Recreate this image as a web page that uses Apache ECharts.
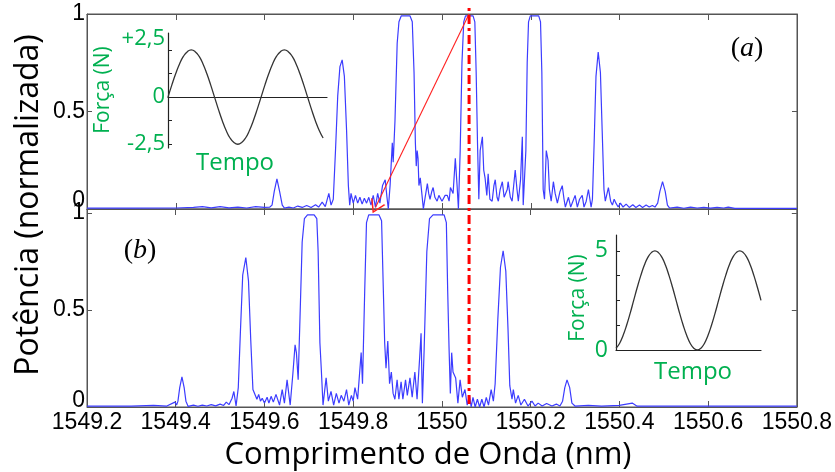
<!DOCTYPE html>
<html><head><meta charset="utf-8">
<script src="https://cdn.jsdelivr.net/npm/echarts@6/dist/echarts.min.js"></script>
<style>html,body{margin:0;padding:0;background:#fff}#c{width:835px;height:472px}</style>
</head><body><div id="c"></div>
<script>
// ---- spectrum (a): wavelength (nm) and normalised power ----
const wavelengthA = [1549.200,1549.300,1549.400,1549.440,1549.460,1549.480,1549.500,1549.520,1549.540,1549.560,1549.580,1549.600,1549.612,1549.617,1549.622,1549.628,1549.634,1549.640,1549.645,1549.655,1549.665,1549.675,1549.685,1549.695,1549.705,1549.715,1549.722,1549.730,1549.737,1549.745,1549.750,1549.755,1549.760,1549.765,1549.770,1549.775,1549.780,1549.785,1549.789,1549.792,1549.795,1549.800,1549.805,1549.810,1549.815,1549.820,1549.825,1549.830,1549.835,1549.840,1549.845,1549.850,1549.855,1549.860,1549.866,1549.872,1549.876,1549.879,1549.883,1549.888,1549.890,1549.894,1549.899,1549.903,1549.908,1549.928,1549.933,1549.937,1549.940,1549.942,1549.944,1549.946,1549.948,1549.951,1549.955,1549.958,1549.962,1549.967,1549.970,1549.973,1549.977,1549.980,1549.984,1549.989,1549.993,1549.996,1550.000,1550.003,1550.007,1550.012,1550.016,1550.019,1550.025,1550.030,1550.034,1550.037,1550.041,1550.045,1550.049,1550.053,1550.070,1550.074,1550.077,1550.080,1550.083,1550.086,1550.091,1550.094,1550.097,1550.101,1550.104,1550.108,1550.113,1550.117,1550.120,1550.124,1550.127,1550.131,1550.136,1550.140,1550.143,1550.147,1550.149,1550.154,1550.158,1550.165,1550.169,1550.172,1550.177,1550.181,1550.183,1550.186,1550.189,1550.192,1550.195,1550.199,1550.218,1550.222,1550.225,1550.228,1550.231,1550.235,1550.239,1550.242,1550.246,1550.251,1550.255,1550.260,1550.266,1550.271,1550.275,1550.278,1550.285,1550.290,1550.295,1550.300,1550.305,1550.310,1550.316,1550.320,1550.325,1550.330,1550.336,1550.339,1550.343,1550.347,1550.352,1550.357,1550.361,1550.365,1550.368,1550.372,1550.375,1550.380,1550.384,1550.388,1550.392,1550.397,1550.402,1550.408,1550.415,1550.422,1550.430,1550.437,1550.445,1550.452,1550.460,1550.467,1550.474,1550.480,1550.486,1550.491,1550.497,1550.503,1550.508,1550.513,1550.530,1550.545,1550.560,1550.575,1550.590,1550.605,1550.620,1550.635,1550.645,1550.660,1550.700,1550.800];
const powerA = [0.004,0.004,0.005,0.008,0.012,0.006,0.012,0.006,0.010,0.005,0.012,0.008,0.010,0.020,0.090,0.155,0.090,0.020,0.005,0.010,0.005,0.015,0.008,0.018,0.008,0.022,0.010,0.035,0.012,0.080,0.020,0.050,0.300,0.580,0.730,0.765,0.680,0.400,0.120,0.020,0.080,0.030,0.070,0.030,0.060,0.025,0.055,0.030,0.060,0.020,0.070,0.010,0.080,0.030,0.120,0.150,0.060,0.000,0.120,0.340,0.240,0.450,0.850,0.960,0.990,0.990,0.960,0.700,0.340,0.220,0.300,0.260,0.120,0.160,0.070,0.000,0.060,0.130,0.080,0.050,0.090,0.110,0.060,0.040,0.070,0.060,0.040,0.050,0.070,0.070,0.040,0.110,0.080,0.260,0.120,0.000,0.300,0.750,0.960,0.990,0.990,0.960,0.700,0.340,0.050,0.300,0.370,0.200,0.160,0.070,0.180,0.050,0.040,0.120,0.150,0.060,0.040,0.100,0.140,0.060,0.050,0.100,0.140,0.060,0.040,0.200,0.100,0.040,0.150,0.370,0.020,0.030,0.300,0.750,0.960,0.990,0.990,0.960,0.700,0.100,0.050,0.300,0.250,0.100,0.040,0.140,0.080,0.030,0.090,0.120,0.050,0.010,0.060,0.010,0.040,0.070,0.010,0.050,0.070,0.010,0.040,0.100,0.010,0.050,0.350,0.680,0.805,0.700,0.400,0.100,0.040,0.080,0.110,0.040,0.020,0.050,0.030,0.010,0.030,0.010,0.025,0.008,0.022,0.008,0.020,0.008,0.020,0.010,0.018,0.010,0.030,0.090,0.140,0.090,0.020,0.005,0.010,0.004,0.010,0.005,0.008,0.004,0.008,0.005,0.010,0.003,0.003,0.003];

// ---- spectrum (b) ----
const wavelengthB = [1549.200,1549.300,1549.350,1549.380,1549.398,1549.402,1549.405,1549.409,1549.414,1549.419,1549.423,1549.428,1549.440,1549.450,1549.460,1549.470,1549.480,1549.490,1549.500,1549.508,1549.514,1549.520,1549.527,1549.531,1549.536,1549.541,1549.546,1549.551,1549.558,1549.564,1549.569,1549.574,1549.578,1549.583,1549.587,1549.591,1549.595,1549.600,1549.606,1549.610,1549.615,1549.620,1549.626,1549.634,1549.640,1549.645,1549.651,1549.658,1549.664,1549.669,1549.672,1549.676,1549.680,1549.685,1549.690,1549.697,1549.712,1549.718,1549.721,1549.725,1549.728,1549.732,1549.739,1549.744,1549.750,1549.756,1549.762,1549.768,1549.773,1549.779,1549.785,1549.790,1549.796,1549.800,1549.804,1549.810,1549.818,1549.821,1549.826,1549.830,1549.835,1549.858,1549.864,1549.868,1549.871,1549.874,1549.878,1549.882,1549.886,1549.890,1549.894,1549.899,1549.903,1549.908,1549.912,1549.918,1549.922,1549.928,1549.933,1549.939,1549.944,1549.950,1549.953,1549.956,1549.960,1549.966,1549.972,1549.980,1550.005,1550.010,1550.013,1550.016,1550.019,1550.022,1550.025,1550.031,1550.036,1550.041,1550.046,1550.052,1550.057,1550.062,1550.066,1550.070,1550.075,1550.080,1550.085,1550.090,1550.095,1550.100,1550.105,1550.111,1550.116,1550.120,1550.126,1550.132,1550.138,1550.144,1550.149,1550.153,1550.158,1550.161,1550.166,1550.172,1550.178,1550.186,1550.194,1550.203,1550.210,1550.217,1550.226,1550.236,1550.248,1550.258,1550.266,1550.272,1550.277,1550.282,1550.288,1550.293,1550.300,1550.330,1550.360,1550.400,1550.429,1550.440,1550.500,1550.800];
const powerB = [0.005,0.005,0.008,0.005,0.025,0.010,0.030,0.100,0.155,0.100,0.030,0.003,0.010,0.004,0.010,0.005,0.012,0.006,0.015,0.008,0.025,0.012,0.045,0.080,0.005,0.100,0.400,0.680,0.770,0.650,0.350,0.090,0.087,0.040,0.065,0.030,0.045,0.020,0.050,0.020,0.055,0.025,0.065,0.010,0.090,0.020,0.140,0.010,0.170,0.320,0.280,0.140,0.450,0.850,0.970,0.990,0.990,0.970,0.800,0.330,0.200,0.010,0.150,0.030,0.080,0.010,0.070,0.020,0.060,0.030,0.090,0.010,0.060,0.030,0.100,0.040,0.280,0.120,0.600,0.950,0.990,0.990,0.960,0.600,0.330,0.200,0.340,0.120,0.180,0.070,0.040,0.140,0.040,0.130,0.040,0.140,0.060,0.150,0.050,0.180,0.040,0.260,0.380,0.020,0.300,0.800,0.970,0.990,0.990,0.950,0.600,0.310,0.070,0.280,0.180,0.150,0.020,0.140,0.050,0.090,0.010,0.060,0.000,0.050,0.000,0.040,0.000,0.040,0.000,0.050,0.010,0.090,0.030,0.120,0.450,0.720,0.805,0.700,0.400,0.110,0.040,0.090,0.020,0.060,0.010,0.040,0.005,0.030,0.005,0.020,0.005,0.018,0.005,0.015,0.005,0.030,0.100,0.140,0.100,0.020,0.005,0.008,0.004,0.008,0.020,0.004,0.004,0.004];

// ---- axes / markers ----
const xMin = 1549.2, xMax = 1550.8, xStep = 0.2;
const powerTicks = [0, 0.5, 1];
const markerWavelength = 1550.061;
const arrowStart = [1550.061, 1.0];
const arrowEnd = [1549.850, 0.008];

// ---- inset (a): force vs time ----
const timeA = [0,1,2,3,4,5,6,7,8,9,10,11,12,13,14,15,16,17,18,19,20,21,22,23,24,25,26,27,28,29,30,31,32,33,34,35,36,37,38,39,40];
const forceA = [0,0.65,1.25,1.77,2.17,2.41,2.5,2.41,2.17,1.77,1.25,0.65,0,-0.65,-1.25,-1.77,-2.17,-2.41,-2.5,-2.41,-2.17,-1.77,-1.25,-0.65,0,0.65,1.25,1.77,2.17,2.41,2.5,2.41,2.17,1.77,1.25,0.65,0,-0.65,-1.25,-1.77,-2.17];
const forceTicksA = [-2.5, -1.25, 0, 1.25, 2.5];
const forceLabelsA = [-2.5, 0, 2.5];

// ---- inset (b) ----
const timeB = [1,2,3,4,5,6,7,8,9,10,11,12,13,14,15,16,17,18,19,20,21,22,23,24,25,26,27,28,29,30,31,32,33,34,35,36,37,38,39,40,41,42];
const forceB = [0.09,0.33,0.73,1.25,1.85,2.5,3.15,3.75,4.27,4.67,4.91,5,4.91,4.67,4.27,3.75,3.15,2.5,1.85,1.25,0.73,0.33,0.09,0,0.09,0.33,0.73,1.25,1.85,2.5,3.15,3.75,4.27,4.67,4.91,5,4.91,4.67,4.27,3.75,3.15,2.5];
const forceTicksB = [0, 1.25, 2.5, 3.75, 5];
const forceLabelsB = [0, 5];

const zip = (xs, ys) => xs.map((x, i) => [x, ys[i]]);

const FRAME = '#555';
const BLUE = '#3c3cff';
const GREEN = '#00b050';
const tickFont = 'Liberation Sans, Arial, sans-serif';
const sansFont = 'Open Sans, Noto Sans, sans-serif';

function frameX(gridIndex, position, labels) {
  return {
    gridIndex, type: 'value', position, min: xMin, max: xMax, interval: xStep,
    axisLine: { show: true, onZero: false, lineStyle: { color: FRAME, width: 1 } },
    axisTick: { show: true, inside: true, length: 6, lineStyle: { color: FRAME } },
    axisLabel: labels ? { show: true, fontFamily: tickFont, fontSize: 23, color: '#000', margin: 4,
      formatter: v => String(Math.round(v * 10) / 10) } : { show: false },
    splitLine: { show: false }
  };
}
function frameY(gridIndex, position, max, zeroPad) {
  const o = {
    gridIndex, type: 'value', position, min: 0, max,
    axisLine: { show: true, onZero: false, lineStyle: { color: FRAME, width: 1 } },
    axisTick: { show: true, inside: true, length: 5, customValues: powerTicks, lineStyle: { color: FRAME } },
    splitLine: { show: false },
    axisLabel: { show: false }
  };
  if (position === 'left') {
    o.axisLabel = {
      show: true, customValues: powerTicks, fontFamily: tickFont, fontSize: 23, color: '#000', margin: 2,
      formatter: v => (v === 0 ? '{lo|0}' : String(v)),
      rich: { lo: { fontFamily: tickFont, fontSize: 23, color: '#000', padding: [0, 0, zeroPad, 0] } }
    };
  }
  return o;
}
const fmtComma = v => (v > 0 ? '{up|+' + String(v).replace('.', ',') + '}' : String(v).replace('.', ','));

const option = {
  animation: false,
  backgroundColor: '#fff',
  grid: [
    { left: 87, top: 14, width: 710, height: 195, show: true, borderColor: FRAME, borderWidth: 1, backgroundColor: 'transparent' },
    { left: 87, top: 209, width: 710, height: 198, show: true, borderColor: FRAME, borderWidth: 1, backgroundColor: 'transparent' },
    { left: 87, top: 8, width: 710, height: 396 },
    { left: 168, top: 33, width: 159, height: 115 },
    { left: 616, top: 235, width: 145, height: 115 }
  ],
  xAxis: [
    frameX(0, 'bottom', false),
    frameX(0, 'top', false),
    frameX(1, 'bottom', true),
    frameX(1, 'top', false),
    { gridIndex: 2, type: 'value', min: xMin, max: xMax, show: false },
    { gridIndex: 3, type: 'value', min: 0, max: 41,
      axisLine: { show: true, onZero: true, lineStyle: { color: '#222', width: 1.2 } },
      axisTick: { show: false }, axisLabel: { show: false }, splitLine: { show: false } },
    { gridIndex: 4, type: 'value', min: 1, max: 42,
      axisLine: { show: true, lineStyle: { color: '#222', width: 1.2 } },
      axisTick: { show: false }, axisLabel: { show: false }, splitLine: { show: false } }
  ],
  yAxis: [
    frameY(0, 'left', 1, 16),
    frameY(0, 'right', 1, 0),
    frameY(1, 'left', 1.02, 12),
    frameY(1, 'right', 1.02, 0),
    { gridIndex: 2, type: 'value', min: 0, max: 1, show: false },
    { gridIndex: 3, type: 'value', min: -2.7, max: 3.4,
      axisLine: { show: true, lineStyle: { color: '#222', width: 1.2 } },
      axisTick: { show: true, inside: true, length: 4, customValues: forceTicksA, lineStyle: { color: '#222' } },
      axisLabel: { show: true, customValues: forceLabelsA, color: GREEN, fontFamily: sansFont, fontSize: 22, margin: 3,
        formatter: fmtComma,
        rich: { up: { color: GREEN, fontFamily: sansFont, fontSize: 22, padding: [0, 0, 22, 0] } } },
      splitLine: { show: false } },
    { gridIndex: 4, type: 'value', min: 0, max: 5.8,
      axisLine: { show: true, lineStyle: { color: '#222', width: 1.2 } },
      axisTick: { show: true, inside: true, length: 4, customValues: forceTicksB, lineStyle: { color: '#222' } },
      axisLabel: { show: true, customValues: forceLabelsB, color: GREEN, fontFamily: sansFont, fontSize: 23, margin: 8 },
      splitLine: { show: false } }
  ],
  series: [
    { type: 'line', xAxisIndex: 0, yAxisIndex: 0, data: zip(wavelengthA, powerA), showSymbol: false,
      lineStyle: { color: BLUE, width: 1.2 }, z: 2,
      markLine: {
        silent: true, animation: false,
        symbol: ['none', 'path://M5,0 L10,10 L8.9,10 L5,2.2 L1.1,10 L0,10 Z'],
        symbolSize: [16, 13],
        label: { show: false },
        lineStyle: { color: '#ff2020', width: 1.1, type: 'solid' },
        data: [[{ coord: arrowStart }, { coord: arrowEnd }]]
      } },
    { type: 'line', xAxisIndex: 2, yAxisIndex: 2, data: zip(wavelengthB, powerB), showSymbol: false,
      lineStyle: { color: BLUE, width: 1.2 }, z: 2 },
    { type: 'line', xAxisIndex: 4, yAxisIndex: 4, data: [[markerWavelength, 0], [markerWavelength, 1]], showSymbol: false,
      lineStyle: { color: '#ff0000', width: 3, type: [9, 4, 3, 4] }, z: 5 },
    { type: 'line', xAxisIndex: 5, yAxisIndex: 5, data: zip(timeA, forceA), showSymbol: false, smooth: true,
      lineStyle: { color: '#333', width: 1.3 }, z: 3 },
    { type: 'line', xAxisIndex: 6, yAxisIndex: 6, data: zip(timeB, forceB), showSymbol: false, smooth: true,
      lineStyle: { color: '#333', width: 1.3 }, z: 3 }
  ],
  graphic: [
    { type: 'text', x: 29, y: 205, rotation: Math.PI / 2,
      style: { text: 'Potência (normalizada)', fontFamily: sansFont, fontSize: 32, fill: '#000', align: 'center', verticalAlign: 'middle' } },
    { type: 'text', x: 428, y: 455,
      style: { text: 'Comprimento de Onda (nm)', fontFamily: sansFont, fontSize: 31, fill: '#000', align: 'center', verticalAlign: 'middle' } },
    { type: 'text', x: 747, y: 49,
      style: { text: '{n|(}{i|a}{n|)}', align: 'center', verticalAlign: 'middle',
        rich: { n: { fontFamily: 'Liberation Serif', fontSize: 28, fill: '#000' }, i: { fontFamily: 'Liberation Serif', fontStyle: 'italic', fontSize: 28, fill: '#000' } } } },
    { type: 'text', x: 140, y: 251,
      style: { text: '{n|(}{i|b}{n|)}', align: 'center', verticalAlign: 'middle',
        rich: { n: { fontFamily: 'Liberation Serif', fontSize: 28, fill: '#000' }, i: { fontFamily: 'Liberation Serif', fontStyle: 'italic', fontSize: 28, fill: '#000' } } } },
    { type: 'text', x: 103, y: 90, rotation: Math.PI / 2,
      style: { text: 'Força (N)', fontFamily: sansFont, fontSize: 21, fill: GREEN, align: 'center', verticalAlign: 'middle' } },
    { type: 'text', x: 235, y: 163,
      style: { text: 'Tempo', fontFamily: sansFont, fontSize: 24, fill: GREEN, align: 'center', verticalAlign: 'middle' } },
    { type: 'text', x: 578, y: 298, rotation: Math.PI / 2,
      style: { text: 'Força (N)', fontFamily: sansFont, fontSize: 21, fill: GREEN, align: 'center', verticalAlign: 'middle' } },
    { type: 'text', x: 693, y: 372,
      style: { text: 'Tempo', fontFamily: sansFont, fontSize: 24, fill: GREEN, align: 'center', verticalAlign: 'middle' } }
  ]
};
const chart = echarts.init(document.getElementById('c'), null, { renderer: 'canvas', width: 835, height: 472 });
chart.setOption(option);
</script></body></html>
